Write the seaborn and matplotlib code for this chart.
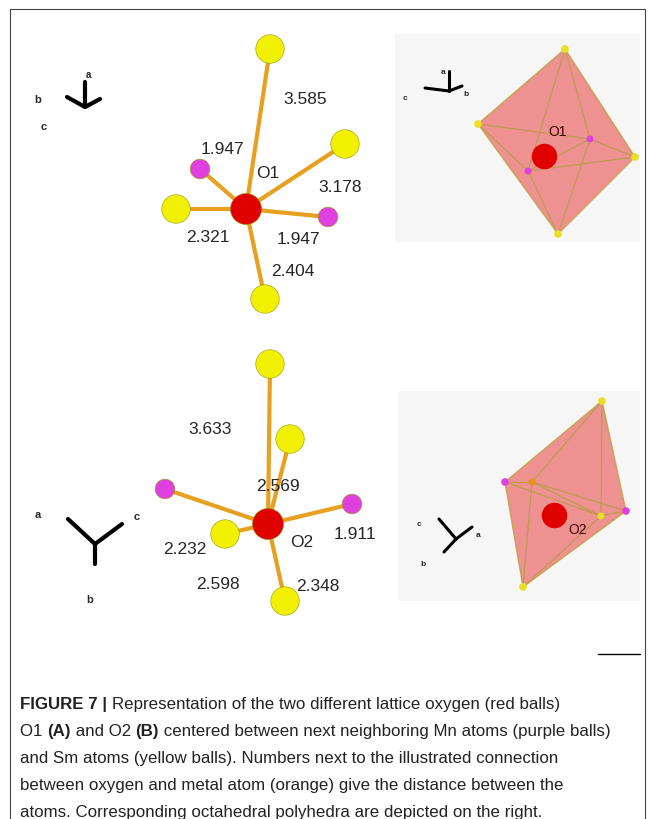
import matplotlib
matplotlib.use("Agg")
import matplotlib.pyplot as plt
import seaborn as sns
import pandas as pd
from matplotlib.patches import Polygon, Rectangle

sns.set_theme(style="white")
plt.rcParams['font.family'] = ['Liberation Sans', 'DejaVu Sans']

# ---- data (pixel coordinates of the illustration) ----
atom_x = [246, 270, 345, 176, 265, 200, 328, 268, 270, 290, 225, 285, 165, 352]
atom_y = [210, 50, 145, 210, 300, 170, 218, 525, 365, 440, 535, 602, 490, 505]
atom_kind = ["O", "Sm", "Sm", "Sm", "Sm", "Mn", "Mn", "O", "Sm", "Sm", "Sm", "Sm", "Mn", "Mn"]
bond_from = [0, 0, 0, 0, 0, 0, 7, 7, 7, 7, 7, 7]
bond_to = [1, 2, 3, 4, 5, 6, 8, 9, 10, 11, 12, 13]
dist_labels = ["3.585", "1.947", "3.178", "2.321", "1.947", "2.404",
               "3.633", "2.569", "2.232", "1.911", "2.598", "2.348"]
dist_x = [305, 222, 340, 208, 298, 293, 210, 278, 185, 355, 218, 318]
dist_y = [100, 150, 187, 238, 240, 272, 430, 487, 550, 535, 585, 587]

octA_x = [565, 635, 558, 478]
octA_y = [50, 158, 235, 125]
octA_vcol = ["#e8e020"] * 4
octA_inner_x = [590, 528]
octA_inner_y = [140, 172]
octA_icol = ["#e040e0", "#e040e0"]
octB_x = [602, 626, 523, 505]
octB_y = [402, 512, 588, 483]
octB_vcol = ["#e8e020", "#e040e0", "#e8e020", "#e040e0"]
octB_inner_x = [532, 601]
octB_inner_y = [483, 517]
octB_icol = ["#e89020", "#e8e020"]

fig = plt.figure(figsize=(6.54, 8.2), dpi=100)
ax = fig.add_axes([0, 0, 1, 1])
ax.set_xlim(0, 654)
ax.set_ylim(820, 0)
ax.axis("off")

ax.add_patch(Rectangle((10, 10), 635, 830, fill=False, lw=0.8, ec="#444444"))
ax.add_patch(Rectangle((395, 35), 245, 208, fc="#f6f6f6", ec="none"))
ax.add_patch(Rectangle((398, 392), 242, 210, fc="#f6f6f6", ec="none"))

# bonds
for a, b in zip(bond_from, bond_to):
    ax.plot([atom_x[a], atom_x[b]], [atom_y[a], atom_y[b]], color="#e8a020", lw=3, zorder=2)

df = pd.DataFrame({"x": atom_x, "y": atom_y, "kind": atom_kind})
size_map = {"O": 500, "Sm": 420, "Mn": 200}
df["s"] = df["kind"].map(size_map)
sns.scatterplot(data=df, x="x", y="y", hue="kind", size="s", sizes=(200, 500),
                palette={"O": "#e00000", "Sm": "#f0f000", "Mn": "#e040e0"},
                edgecolor="#999900", linewidth=0.4, legend=False, ax=ax, zorder=3)
ax.set_xlim(0, 654); ax.set_ylim(820, 0); ax.set_xlabel(""); ax.set_ylabel("")

for t, x, y in zip(dist_labels, dist_x, dist_y):
    ax.text(x, y, t, fontsize=12.5, ha="center", va="center", zorder=4)
ax.text(268, 173, "O1", fontsize=12.5, ha="center", va="center")
ax.text(302, 543, "O2", fontsize=12.5, ha="center", va="center", zorder=4)

# octahedra
def octa(xs, ys, vc, ix, iy, ic, ox, oy, lab, lx, ly):
    pts = list(zip(xs, ys))
    ax.add_patch(Polygon(pts, closed=True, fc="#ec8080", ec="#c0a040", lw=1, alpha=0.85, zorder=2))
    for i in range(len(ix)):
        for p in pts:
            ax.plot([ix[i], p[0]], [iy[i], p[1]], color="#c09a50", lw=0.9, zorder=2)
    ax.plot([ix[0], ix[1]], [iy[0], iy[1]], color="#c09a50", lw=0.9, zorder=2)
    ax.scatter(xs, ys, s=20, c=vc, zorder=3)
    ax.scatter(ix, iy, s=16, c=ic, zorder=3)
    ax.scatter([ox], [oy], s=300, c="#e00000", zorder=4)
    ax.text(lx, ly, lab, fontsize=10, ha="center", va="center", zorder=5, color="#400000")

octa(octA_x, octA_y, octA_vcol, octA_inner_x, octA_inner_y, octA_icol, 544, 157, "O1", 558, 132)
octa(octB_x, octB_y, octB_vcol, octB_inner_x, octB_inner_y, octB_icol, 554, 516, "O2", 578, 530)

# axis glyphs
def glyph(cx, cy, segs, lw, labs):
    for dx, dy in segs:
        ax.plot([cx, cx + dx], [cy, cy + dy], color="black", lw=lw)
    for t, x, y, fs in labs:
        ax.text(x, y, t, fontsize=fs, ha="center", va="center", fontweight="bold")

glyph(85, 108, [(-18, -10), (15, -8), (0, -25)], 3, [("a", 88, 75, 7), ("b", 38, 100, 8), ("c", 44, 127, 8)])
glyph(449, 92, [(-24, -3), (13, -5), (0, -20)], 2.2, [("a", 443, 72, 6), ("c", 405, 98, 6), ("b", 466, 95, 6)])
glyph(95, 545, [(-27, -25), (27, -20), (0, 20)], 3, [("a", 38, 515, 8), ("c", 137, 517, 8), ("b", 90, 600, 8)])
glyph(456, 540, [(-17, -20), (16, -12), (-12, 13)], 2.2, [("c", 419, 525, 6), ("a", 478, 536, 6), ("b", 423, 565, 6)])
ax.plot([598, 640], [655, 655], color="black", lw=1)

# caption with mixed bold runs
lines = [
    [("FIGURE 7 | ", True), ("Representation of the two different lattice oxygen (red balls)", False)],
    [("O1 ", False), ("(A)", True), (" and O2 ", False), ("(B)", True), (" centered between next neighboring Mn atoms (purple balls)", False)],
    [("and Sm atoms (yellow balls). Numbers next to the illustrated connection", False)],
    [("between oxygen and metal atom (orange) give the distance between the", False)],
    [("atoms. Corresponding octahedral polyhedra are depicted on the right.", False)],
]
fig.canvas.draw()
r = fig.canvas.get_renderer()
inv = ax.transData.inverted()
y0 = 705
for i, runs in enumerate(lines):
    x = 20
    for t, bold in runs:
        tx = ax.text(x, y0 + i * 27, t, fontsize=12.2, ha="left", va="center",
                     fontweight="bold" if bold else "normal", color="#222222")
        bb = tx.get_window_extent(r)
        x = inv.transform((bb.x1, bb.y0))[0]

fig.savefig("out.png", dpi=100)
